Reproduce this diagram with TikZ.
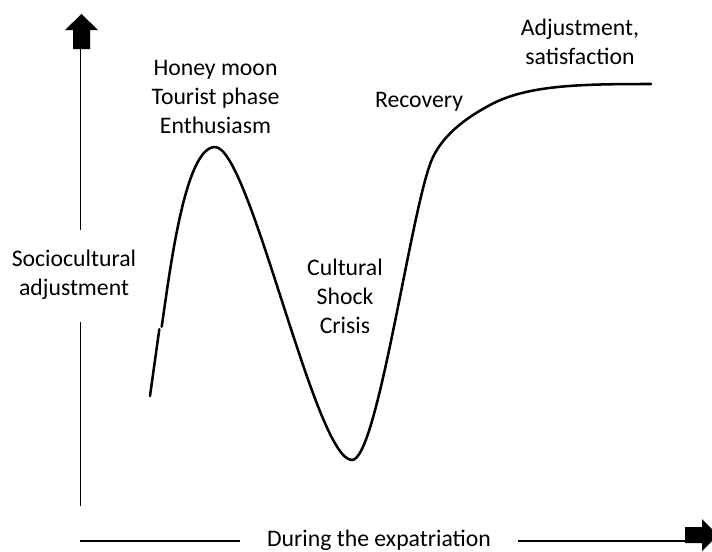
\documentclass[tikz,border=0pt]{standalone}
\usepackage{fontspec}
\setmainfont{Carlito}
\begin{document}
\begin{tikzpicture}[x=0.75pt,y=-0.75pt,
  lbl/.style={font=\fontsize{17.8}{21.75}\selectfont, align=center, inner sep=0pt},
  axisline/.style={line width=1.15pt},
  curveline/.style={line width=1.9pt, line cap=round, line join=round},
  blockarrow/.style={fill=black}]
\useasboundingbox (0,0) rectangle (712,551);
\clip (0,0) rectangle (712,551);
% vertical axis
\fill[blockarrow] (73,49) -- (73,30) -- (65,30) -- (81.5,14) -- (98,30) -- (90,30) -- (90,49) -- cycle;
\coordinate (vtop) at (80.7,48);
\coordinate (vmid1) at (80.7,230);
\coordinate (vmid2) at (80.7,322);
\coordinate (vbot) at (80.7,506);
\draw[axisline] (vtop) -- (vmid1);
\draw[axisline] (vmid2) -- (vbot);
% horizontal axis
\fill[blockarrow] (685,527) -- (702,527) -- (702,519) -- (718,535) -- (702,551) -- (702,543) -- (685,543) -- cycle;
\coordinate (hleft) at (80,541);
\coordinate (hmid1) at (240,541);
\coordinate (hmid2) at (518,541);
\coordinate (hright) at (686,541);
\draw[axisline] (hleft) -- (hmid1);
\draw[axisline] (hmid2) -- (hright);
% labels
\node[lbl] (honey) at (215.5,97) {Honey moon\\Tourist phase\\Enthusiasm};
\node[lbl] (recov) at (419,102) {Recovery};
\node[lbl] (adjust) at (580,41.5) {Adjustment,\\satisfaction};
\node[lbl] (crisis) at (345,296) {Cultural\\Shock\\Crisis};
\node[lbl] (socio) at (74,275) {Sociocultural\\adjustment};
\node[lbl] (during) at (379,540) {During the expatriation};
% curve
\coordinate (c0) at (150,396);
\coordinate (c1) at (159.3,329.3);
\coordinate (c2) at (161.7,326.7);
\coordinate (peak) at (215,147);
\coordinate (trough) at (352,460);
\coordinate (rise) at (433,157);
\coordinate (bend) at (490,105);
\coordinate (cend) at (651,84);
\draw[curveline] (c0) -- (c1);
\draw[curveline] (c2) .. controls (170,270) and (185,147) .. (peak)
  .. controls (250,147) and (315,460) .. (trough)
  .. controls (378,460) and (412,200) .. (rise)
  .. controls (443,136.5) and (462,120) .. (bend)
  .. controls (527,85) and (580,84) .. (cend);
\end{tikzpicture}
\end{document}
